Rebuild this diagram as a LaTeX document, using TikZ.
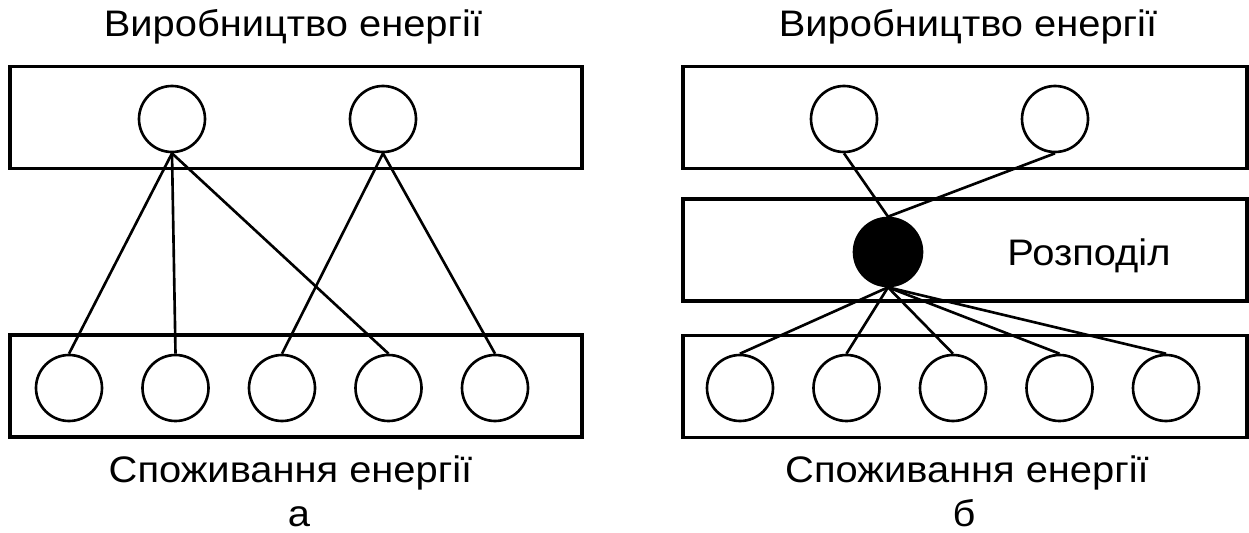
\documentclass[tikz,border=0pt]{standalone}
\usepackage{fontspec}
\setmainfont[FakeStretch=1.08]{Liberation Sans}
\setsansfont[FakeStretch=1.08]{Liberation Sans}
\usetikzlibrary{positioning}

\begin{document}
\begin{tikzpicture}[font=\sffamily\fontsize{21}{25}\selectfont, line width=1.5pt]
    \tikzstyle{band}=[draw, line width=1.8pt, minimum height=2.04cm, inner sep=0pt]
    \tikzstyle{unit}=[draw, circle, minimum size=1.32cm, inner sep=0pt, node distance=2.13cm, on grid]
    \tikzstyle{hub}=[unit, fill=black, minimum size=1.36cm]
    \tikzstyle{caption}=[anchor=base, inner sep=0pt]
    \useasboundingbox (0,0) rectangle (24.98,-10.66);

    % a) every source wired straight to its consumers
    \node[band, minimum width=11.44cm] (gen) at (5.92,-2.35) {};
    \node[band, minimum width=11.44cm] (use) at (5.92,-7.72) {};
    \node[caption] (gentitle) at (5.86,-0.74) {Виробництво енергії};
    \node[caption] (usetitle) at (5.81,-9.64) {Споживання енергії};
    \node[caption] (capa) at (5.98,-10.52) {а};

    \node[unit] (p1) at (3.44,-2.38) {};
    \node[unit,right=4.22cm of p1] (p2) {};
    \node[unit] (u1) at (1.38,-7.76) {};
    \node[unit,right=of u1] (u2) {};
    \node[unit,right=of u2] (u3) {};
    \node[unit,right=of u3] (u4) {};
    \node[unit,right=of u4] (u5) {};

    \foreach \c in {u1,u2,u4}
        \draw (p1.south) -- (\c.north);
    \foreach \c in {u3,u5}
        \draw (p2.south) -- (\c.north);

    % b) everything goes through the distribution node
    \node[band, minimum width=11.28cm] (gen2) at (19.30,-2.35) {};
    \node[band, minimum width=11.28cm] (dist) at (19.30,-5.00) {};
    \node[band, minimum width=11.28cm] (use2) at (19.30,-7.73) {};
    \node[caption] (gentitle2) at (19.36,-0.74) {Виробництво енергії};
    \node[caption] (usetitle2) at (19.34,-9.64) {Споживання енергії};
    \node[caption] (capb) at (19.28,-10.52) {б};
    \node[caption] (distlabel) at (21.78,-5.32) {Розподіл};

    \node[unit] (q1) at (16.88,-2.38) {};
    \node[unit,right=4.22cm of q1] (q2) {};
    \node[hub] (hub) at (17.76,-5.04) {};
    \node[unit] (v1) at (14.80,-7.76) {};
    \node[unit,right=of v1] (v2) {};
    \node[unit,right=of v2] (v3) {};
    \node[unit,right=of v3] (v4) {};
    \node[unit,right=of v4] (v5) {};

    \draw (q1.south) -- (hub.north);
    \draw (q2.south) -- (hub.north);
    \foreach \c in {v1,v2,v3,v4,v5}
        \draw (hub.south) -- (\c.north);
\end{tikzpicture}
\end{document}
